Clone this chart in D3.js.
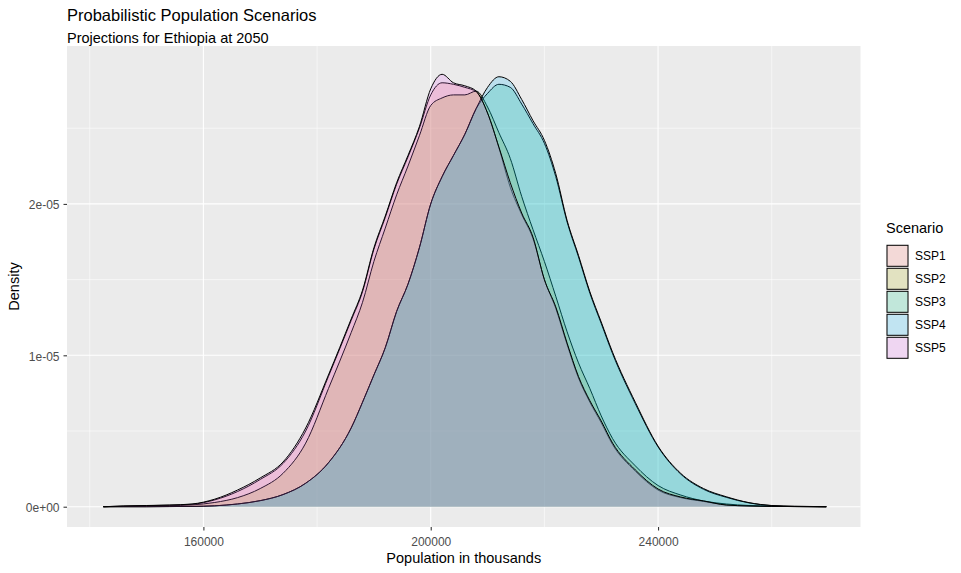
<!DOCTYPE html>
<html>
<head>
<meta charset="utf-8">
<script src="https://cdn.jsdelivr.net/npm/d3@7"></script>
<style>
    body { margin: 0; background: #ffffff; }
    text { font-family: "Liberation Sans", Arial, sans-serif; }
</style>
</head>
<body>
<svg id="chart" width="961" height="573"></svg>
<script>

// population grid (thousands) shared by all density estimates
var popX = [142400, 146000, 150000, 154000, 158000, 162000, 166000, 170000, 174000, 178000, 182000, 186000,
    188000, 190000, 192000, 194000, 196000, 198000, 200000, 202000, 204000, 206000, 208000, 210000,
    212000, 214000, 216000, 218000, 220000, 222000, 224000, 226000, 228000, 230000, 232000,
    236000, 240000, 244000, 248000, 252000, 256000, 260000, 264000, 268000, 269600];

// densities, in units of 1e-05
var ssp1 = [0, 0.004, 0.007, 0.010, 0.016, 0.045, 0.10, 0.18, 0.285, 0.50, 0.86, 1.23,
    1.42, 1.70, 1.91, 2.13, 2.31, 2.50, 2.72, 2.80, 2.79, 2.77, 2.74, 2.60,
    2.37, 2.11, 1.93, 1.77, 1.50, 1.31, 1.07, 0.85, 0.69, 0.555, 0.41,
    0.235, 0.11, 0.06, 0.035, 0.012, 0.005, 0.002, 0.001, 0, 0];
var ssp2 = [0, 0.002, 0.004, 0.007, 0.012, 0.028, 0.06, 0.12, 0.22, 0.42, 0.78, 1.15,
    1.35, 1.62, 1.84, 2.06, 2.25, 2.45, 2.65, 2.70, 2.72, 2.72, 2.745, 2.64,
    2.47, 2.30, 2.05, 1.83, 1.62, 1.39, 1.155, 0.95, 0.78, 0.60, 0.45,
    0.27, 0.14, 0.077, 0.038, 0.018, 0.008, 0.003, 0.001, 0, 0];
var ssp3 = [0, 0, 0, 0.001, 0.002, 0.006, 0.018, 0.04, 0.08, 0.155, 0.29, 0.52,
    0.69, 0.87, 1.05, 1.29, 1.47, 1.71, 2.00, 2.18, 2.32, 2.46, 2.63, 2.73,
    2.79, 2.77, 2.66, 2.53, 2.40, 2.18, 1.88, 1.65, 1.41, 1.21, 1.01,
    0.68, 0.395, 0.215, 0.115, 0.062, 0.025, 0.007, 0.002, 0.001, 0];
var ssp4 = [0, 0, 0, 0.001, 0.002, 0.006, 0.018, 0.04, 0.08, 0.155, 0.29, 0.52,
    0.69, 0.87, 1.05, 1.29, 1.47, 1.71, 2.00, 2.18, 2.32, 2.46, 2.63, 2.77,
    2.84, 2.81, 2.69, 2.55, 2.42, 2.20, 1.89, 1.66, 1.42, 1.22, 1.02,
    0.69, 0.40, 0.22, 0.12, 0.066, 0.027, 0.008, 0.003, 0.001, 0];
var ssp5 = [0, 0.005, 0.008, 0.011, 0.018, 0.05, 0.11, 0.19, 0.295, 0.52, 0.87, 1.24,
    1.43, 1.71, 1.92, 2.14, 2.32, 2.51, 2.76, 2.856, 2.80, 2.78, 2.745, 2.60,
    2.375, 2.14, 1.94, 1.78, 1.50, 1.32, 1.08, 0.86, 0.70, 0.566, 0.42,
    0.243, 0.117, 0.064, 0.038, 0.011, 0.005, 0.002, 0.001, 0, 0];

var scenarios = ["SSP1", "SSP2", "SSP3", "SSP4", "SSP5"];
var scenarioColors = ["#F8766D", "#A3A500", "#00BF7D", "#00B0F6", "#E76BF3"];
var densityUnit = 1e-5;

var xMajorTicks = [160000, 200000, 240000];
var xMinorTicks = [140000, 180000, 220000, 260000];
var xTickLabels = ["160000", "200000", "240000"];
var yMajorTicks = [0, 1e-5, 2e-5];
var yMinorTicks = [0.5e-5, 1.5e-5, 2.5e-5];
var yTickLabels = ["0e+00", "1e-05", "2e-05"];

var panel = {left: 67, right: 860.5, top: 46, bottom: 527};

var svg = d3.select("#chart");

var x = d3.scaleLinear()
    .domain([136000, 275620])
    .range([panel.left, panel.right]);
var y = d3.scaleLinear()
    .domain([-0.134e-5, 3.043e-5])
    .range([panel.bottom, panel.top]);

function getSeries(values) {
    var points = new Array(popX.length);
    for (var i = 0; i < popX.length; i++) {
        points[i] = {pop: popX[i], density: values[i] * densityUnit};
    }
    return points;
}

function drawPanel() {
    svg.append("rect")
        .attr("x", panel.left)
        .attr("y", panel.top)
        .attr("width", panel.right - panel.left)
        .attr("height", panel.bottom - panel.top)
        .attr("fill", "#ebebeb");

    var grid = svg.append("g").attr("class", "grid");
    grid.selectAll("line.xminor").data(xMinorTicks).enter().append("line")
        .attr("x1", d => x(d)).attr("x2", d => x(d))
        .attr("y1", panel.top).attr("y2", panel.bottom)
        .attr("stroke", "#ffffff").attr("stroke-width", 0.55);
    grid.selectAll("line.yminor").data(yMinorTicks).enter().append("line")
        .attr("y1", d => y(d)).attr("y2", d => y(d))
        .attr("x1", panel.left).attr("x2", panel.right)
        .attr("stroke", "#ffffff").attr("stroke-width", 0.55);
    grid.selectAll("line.xmajor").data(xMajorTicks).enter().append("line")
        .attr("x1", d => x(d)).attr("x2", d => x(d))
        .attr("y1", panel.top).attr("y2", panel.bottom)
        .attr("stroke", "#ffffff").attr("stroke-width", 1.1);
    grid.selectAll("line.ymajor").data(yMajorTicks).enter().append("line")
        .attr("y1", d => y(d)).attr("y2", d => y(d))
        .attr("x1", panel.left).attr("x2", panel.right)
        .attr("stroke", "#ffffff").attr("stroke-width", 1.1);
}

function drawDensities() {
    var area = d3.area()
        .curve(d3.curveMonotoneX)
        .x(d => x(d.pop))
        .y0(y(0))
        .y1(d => y(d.density));
    var line = d3.line()
        .curve(d3.curveMonotoneX)
        .x(d => x(d.pop))
        .y(d => y(d.density));

    var allSeries = [ssp1, ssp2, ssp3, ssp4, ssp5];
    // ggplot draws fill and outline group by group
    for (var i = 0; i < allSeries.length; i++) {
        var points = getSeries(allSeries[i]);
        var g = svg.append("g").attr("class", "density " + scenarios[i]);
        g.append("path")
            .attr("d", area(points))
            .attr("fill", scenarioColors[i])
            .attr("fill-opacity", 0.2);
        g.append("path")
            .attr("d", line(points))
            .attr("fill", "none")
            .attr("stroke", "#000000")
            .attr("stroke-width", 1);
    }
}

function drawAxes() {
    var xAxis = d3.axisBottom(x)
        .tickValues(xMajorTicks)
        .tickFormat((d, i) => xTickLabels[i])
        .tickSize(3.5)
        .tickPadding(7);
    var gx = svg.append("g")
        .attr("transform", "translate(0," + panel.bottom + ")")
        .call(xAxis);

    var yAxis = d3.axisLeft(y)
        .tickValues(yMajorTicks)
        .tickFormat((d, i) => yTickLabels[i])
        .tickSize(3.5)
        .tickPadding(4);
    var gy = svg.append("g")
        .attr("transform", "translate(" + panel.left + ",0)")
        .call(yAxis);
    gy.selectAll(".tick text").attr("dy", "0.4em");

    [gx, gy].forEach(function (g) {
        g.select(".domain").remove();
        g.selectAll(".tick line").attr("stroke", "#333333").attr("stroke-width", 1.07);
        g.selectAll(".tick text")
            .attr("fill", "#4d4d4d")
            .style("font-size", "12px")
            .style("font-family", "\"Liberation Sans\", Arial, sans-serif");
    });

    svg.append("text")
        .attr("x", (panel.left + panel.right) / 2)
        .attr("y", 563.3)
        .attr("text-anchor", "middle")
        .style("font-size", "14.5px")
        .text("Population in thousands");

    svg.append("text")
        .attr("transform", "translate(18.7," + (panel.top + panel.bottom) / 2 + ") rotate(-90)")
        .attr("text-anchor", "middle")
        .style("font-size", "14.5px")
        .text("Density");
}

function drawTitles() {
    svg.append("text")
        .attr("x", panel.left)
        .attr("y", 20.7)
        .style("font-size", "16.5px")
        .text("Probabilistic Population Scenarios");
    svg.append("text")
        .attr("x", panel.left)
        .attr("y", 42.7)
        .style("font-size", "14.5px")
        .text("Projections for Ethiopia at 2050");
}

function drawLegend() {
    var legend = svg.append("g").attr("transform", "translate(886,244.3)");
    var keySize = 23;

    legend.append("text")
        .attr("x", 0)
        .attr("y", -11.3)
        .style("font-size", "14.5px")
        .text("Scenario");

    var keys = legend.selectAll("g.key").data(scenarios).enter().append("g")
        .attr("class", "key")
        .attr("transform", (d, i) => "translate(0," + i * keySize + ")");
    keys.append("rect")
        .attr("width", keySize)
        .attr("height", keySize)
        .attr("fill", "#f2f2f2");
    keys.append("rect")
        .attr("x", 1)
        .attr("y", 1)
        .attr("width", keySize - 2)
        .attr("height", keySize - 2)
        .attr("fill", (d, i) => scenarioColors[i])
        .attr("fill-opacity", 0.2)
        .attr("stroke", "#000000")
        .attr("stroke-width", 1);
    keys.append("text")
        .attr("x", 29)
        .attr("y", keySize / 2)
        .attr("dy", "0.36em")
        .style("font-size", "12px")
        .text(d => d);
}

drawPanel();
drawDensities();
drawAxes();
drawTitles();
drawLegend();

</script>
</body>
</html>
